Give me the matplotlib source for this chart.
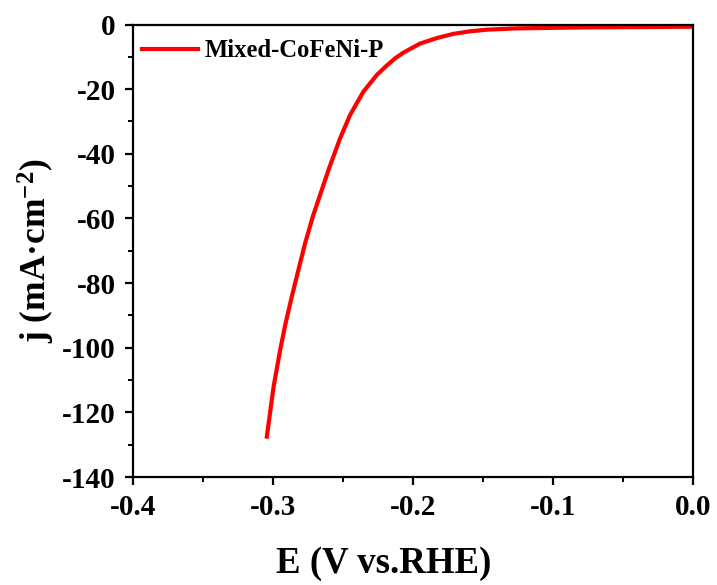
import matplotlib

matplotlib.use("Agg")
import matplotlib.pyplot as plt
from matplotlib.ticker import MultipleLocator, FormatStrFormatter

# LSV curve (E in V vs. RHE, j in mA/cm^2)
E = [-0.3042, -0.2994, -0.2947, -0.2908, -0.2864, -0.2817, -0.2769, -0.2710,
     -0.2674, -0.2598, -0.2519, -0.2448, -0.2353, -0.2257, -0.2186, -0.2127,
     -0.2067, -0.1948, -0.1829, -0.1711, -0.1591, -0.1472, -0.1258, -0.0783,
     -0.0021]
J = [-127.5, -112.1, -100.7, -92.4, -84.2, -76.0, -67.7, -58.9,
     -54.3, -44.5, -35.2, -28.0, -20.8, -15.6, -12.7, -10.5,
     -8.7, -5.9, -4.2, -2.9, -2.1, -1.6, -1.2, -0.9,
     -0.7]
LABEL = "Mixed-CoFeNi-P"

plt.rcParams["font.family"] = ["Liberation Serif", "DejaVu Serif"]
plt.rcParams["font.weight"] = "bold"
plt.rcParams["axes.unicode_minus"] = False
plt.rcParams["mathtext.fontset"] = "custom"
plt.rcParams["mathtext.rm"] = "Liberation Serif:bold"
plt.rcParams["mathtext.it"] = "Liberation Serif:bold"
plt.rcParams["mathtext.bf"] = "Liberation Serif:bold"

fig = plt.figure(figsize=(7.17, 5.85), dpi=100)
ax = fig.add_axes([0.185, 0.1846, 0.7815, 0.7735])

ax.plot(E, J, color="#ff0000", lw=3, label=LABEL, solid_joinstyle="round")

ax.set_xlim(-0.4, 0.0)
ax.set_ylim(-140, 0)
ax.xaxis.set_major_locator(MultipleLocator(0.1))
ax.xaxis.set_minor_locator(MultipleLocator(0.05))
ax.yaxis.set_major_locator(MultipleLocator(20))
ax.yaxis.set_minor_locator(MultipleLocator(10))
ax.xaxis.set_major_formatter(FormatStrFormatter("%.1f"))

for s in ax.spines.values():
    s.set_linewidth(1.6)
ax.tick_params(which="major", direction="out", length=6, width=1.6,
               labelsize=21, pad=6)
ax.tick_params(which="minor", direction="out", length=3.3, width=1.4)
ax.tick_params(top=False, right=False, which="both")

ax.set_xlabel("E (V vs.RHE)", fontsize=26.5, fontweight="bold", labelpad=18.5)
ax.set_ylabel("j (mA·cm$^{-2}$)", fontsize=25.5, fontweight="bold", labelpad=4)
# the x label sits a little left of centre in the original
ax.xaxis.label.set_x(0.448)

ax.legend(loc="upper left", bbox_to_anchor=(-0.009, 1.0), frameon=False,
          fontsize=17.7, handlelength=2.25, handletextpad=0.3,
          borderaxespad=0.3, borderpad=0.3)

fig.savefig("out.png", dpi=100)
